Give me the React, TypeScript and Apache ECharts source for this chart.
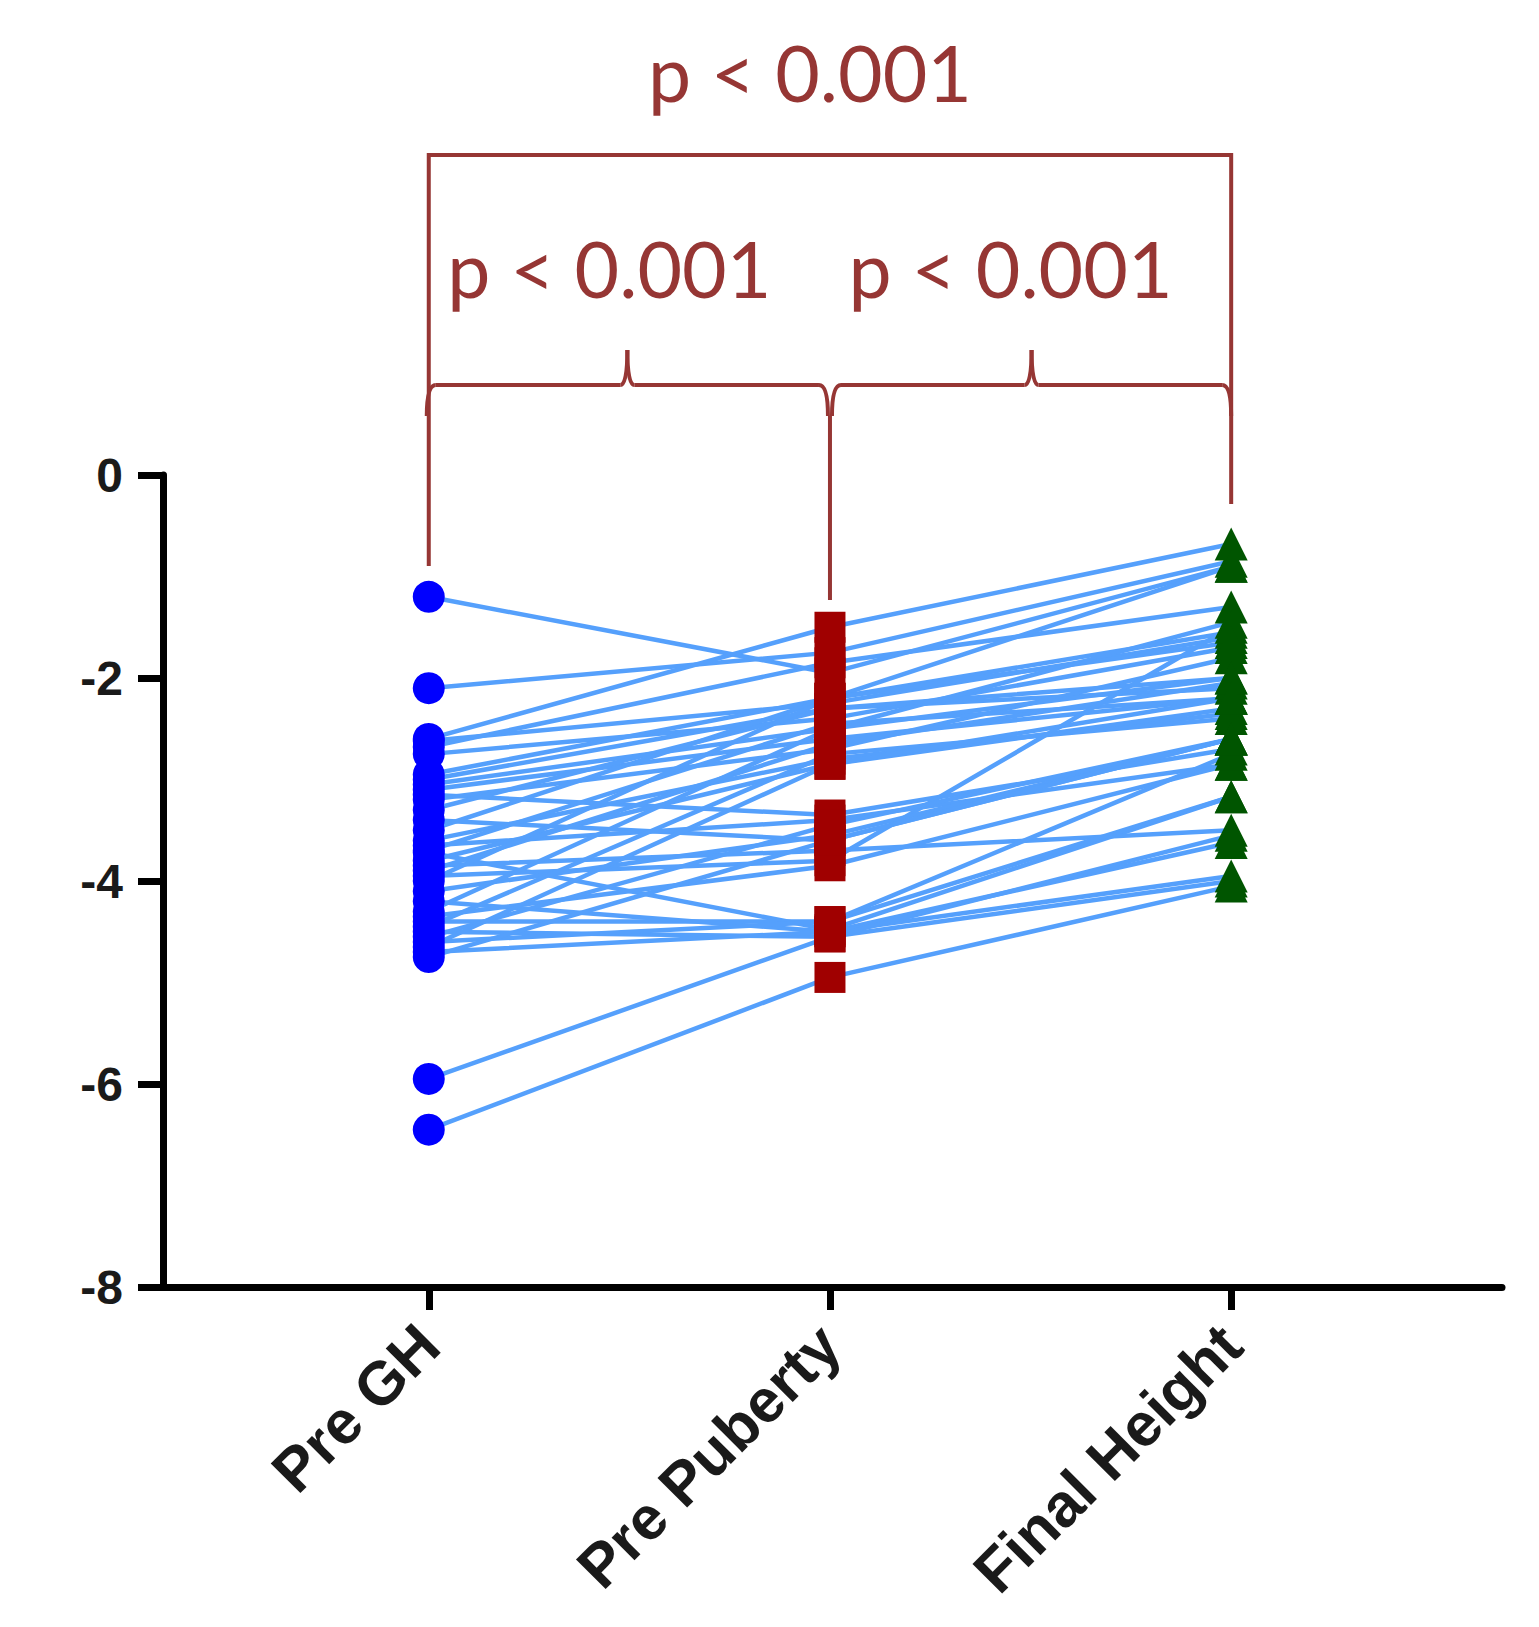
import React, { useEffect, useRef } from "react";
import * as echarts from "echarts";

const categories = ["Pre GH", "Pre Puberty", "Final Height"];
const yTickStep = 2;
const yMin = -8;
const yMax = 0;

const preGH = [
  -1.2, -2.1, -2.6, -2.62, -2.68, -2.75, -2.95, -3.0, -3.05, -3.1, -3.15, -3.2, -3.3,
  -3.4, -3.5, -3.6, -3.65, -3.7, -3.72, -3.8, -3.85, -3.9, -3.95, -4.0, -4.1, -4.2,
  -4.3, -4.35, -4.4, -4.45, -4.5, -4.55, -4.6, -4.65, -4.7, -4.75, -5.95, -6.45,
];
const prePuberty = [
  -1.95, -1.75, -1.5, -2.25, -1.85, -2.4, -2.2, -2.3, -2.5, -2.6, -3.35, -2.7, -2.3,
  -3.6, -2.2, -2.8, -3.4, -2.45, -4.48, -2.85, -3.7, -2.65, -3.8, -2.2, -3.55, -4.5,
  -2.5, -3.85, -4.4, -2.75, -4.55, -3.45, -4.4, -2.85, -4.5, -3.6, -4.55, -4.95,
];
const finalHeight = [
  -0.9, -0.85, -0.68, -1.6, -1.3, -1.7, -0.9, -2.1, -1.45, -2.2, -2.7, -1.8, -2.0,
  -2.6, -1.55, -2.35, -2.85, -2.2, -3.17, -2.3, -3.5, -2.05, -1.5, -1.65, -2.6, -3.62,
  -2.0, -2.85, -3.17, -2.4, -4.0, -2.6, -2.75, -2.2, -3.95, -2.6, -3.55, -4.05,
];
const pValueLabels = ["p < 0.001", "p < 0.001", "p < 0.001"];

const LINE_COLOR = "#55a0fc";
const BRACKET = "#963634";

export default function App() {
  const ref = useRef<HTMLDivElement>(null);

  useEffect(() => {
    if (!ref.current) return;
    const chart = echarts.init(ref.current, null, { renderer: "svg" });

    const lineSeries = preGH.map((v, i) => ({
      type: "line",
      data: [
        [0, v],
        [1, prePuberty[i]],
        [2, finalHeight[i]],
      ],
      symbol: "none",
      silent: true,
      lineStyle: { color: LINE_COLOR, width: 4.5 },
      z: 2,
    }));

    const scatter = (vals: number[], xi: number, symbol: string, size: any, color: string) => ({
      type: "scatter",
      data: vals.map((v) => [xi, v]),
      symbol,
      symbolSize: size,
      itemStyle: { color, opacity: 1 },
      silent: true,
      z: 5,
    });

    const labelFont = "'Liberation Sans', Arial, sans-serif";

    chart.setOption({
      animation: false,
      grid: {
        left: 155,
        right: 29,
        top: 467,
        bottom: 332,
        containLabel: false,
        outerBoundsMode: "none",
      },
      xAxis: {
        type: "value",
        min: -0.6624,
        max: 2.675,
        splitLine: { show: false },
        axisLine: { show: true, onZero: false, lineStyle: { color: "#000", width: 7 } },
        axisTick: {
          show: true,
          customValues: [0, 1, 2],
          length: 23,
          lineStyle: { color: "#000", width: 7 },
        },
        axisLabel: {
          customValues: [0, 1, 2],
          formatter: (v: number) => categories[Math.round(v)] ?? "",
          rotate: 45,
          margin: 48,
          fontSize: 61,
          fontWeight: "bold",
          fontFamily: labelFont,
          color: "#1a1a1a",
        },
      },
      yAxis: {
        type: "value",
        min: yMin,
        max: yMax,
        interval: yTickStep,
        splitLine: { show: false },
        axisLine: { show: true, onZero: false, lineStyle: { color: "#000", width: 7 } },
        axisTick: { show: true, length: 25, lineStyle: { color: "#000", width: 7 } },
        axisLabel: {
          margin: 40,
          fontSize: 48,
          fontWeight: "bold",
          fontFamily: labelFont,
          color: "#1a1a1a",
        },
      },
      series: [
        ...lineSeries,
        scatter(preGH, 0, "circle", 32, "#0000ff"),
        scatter(prePuberty, 1, "rect", 31, "#a00000"),
        scatter(finalHeight, 2, "triangle", [33, 33], "#005500"),
      ],
    });

    const xa = chart.convertToPixel({ xAxisIndex: 0 }, 0) as number;
    const xb = chart.convertToPixel({ xAxisIndex: 0 }, 1) as number;
    const xc = chart.convertToPixel({ xAxisIndex: 0 }, 2) as number;

    const yTop = 147;
    const yH = 377;
    const yC = 342;
    const yE = 408;
    const lw = 4;
    const st = { stroke: BRACKET, lineWidth: lw, fill: null };

    const brace = (x1: number, x2: number) => {
      const xm = (x1 + x2) / 2;
      return [
        { type: "bezierCurve", shape: { x1: x1, y1: yE, cpx1: x1, cpy1: yH, x2: x1 + 9, y2: yH }, style: st },
        { type: "line", shape: { x1: x1 + 9, y1: yH, x2: xm - 7, y2: yH }, style: st },
        { type: "bezierCurve", shape: { x1: xm - 7, y1: yH, cpx1: xm, cpy1: yH, x2: xm, y2: yC }, style: st },
        { type: "bezierCurve", shape: { x1: xm, y1: yC, cpx1: xm, cpy1: yH, x2: xm + 7, y2: yH }, style: st },
        { type: "line", shape: { x1: xm + 7, y1: yH, x2: x2 - 9, y2: yH }, style: st },
        { type: "bezierCurve", shape: { x1: x2 - 9, y1: yH, cpx1: x2, cpy1: yH, x2: x2, y2: yE }, style: st },
      ];
    };

    const textStyle = (text: string, x: number, y: number) => ({
      type: "text",
      x,
      y,
      style: {
        text,
        fill: BRACKET,
        font: "77px Lato, 'Open Sans', sans-serif",
        fontSize: 77,
        fontFamily: "Lato",
        align: "center",
        verticalAlign: "middle",
      },
    });

    chart.setOption({
      graphic: [
        {
          type: "polyline",
          shape: { points: [[xa, 558], [xa, yTop], [xc, yTop], [xc, 496]] },
          style: st,
        },
        { type: "line", shape: { x1: xb, y1: yE, x2: xb, y2: 592 }, style: st },
        ...brace(xa - 2, xb - 2),
        ...brace(xb + 2, xc),
        textStyle(pValueLabels[0], xb - 20, 63.5),
        textStyle(pValueLabels[1], (xa + xb) / 2 - 20, 260),
        textStyle(pValueLabels[2], (xb + xc) / 2 - 20, 260),
      ],
    });

    return () => chart.dispose();
  }, []);

  return <div ref={ref} style={{ width: 1523, height: 1611 }} />;
}
